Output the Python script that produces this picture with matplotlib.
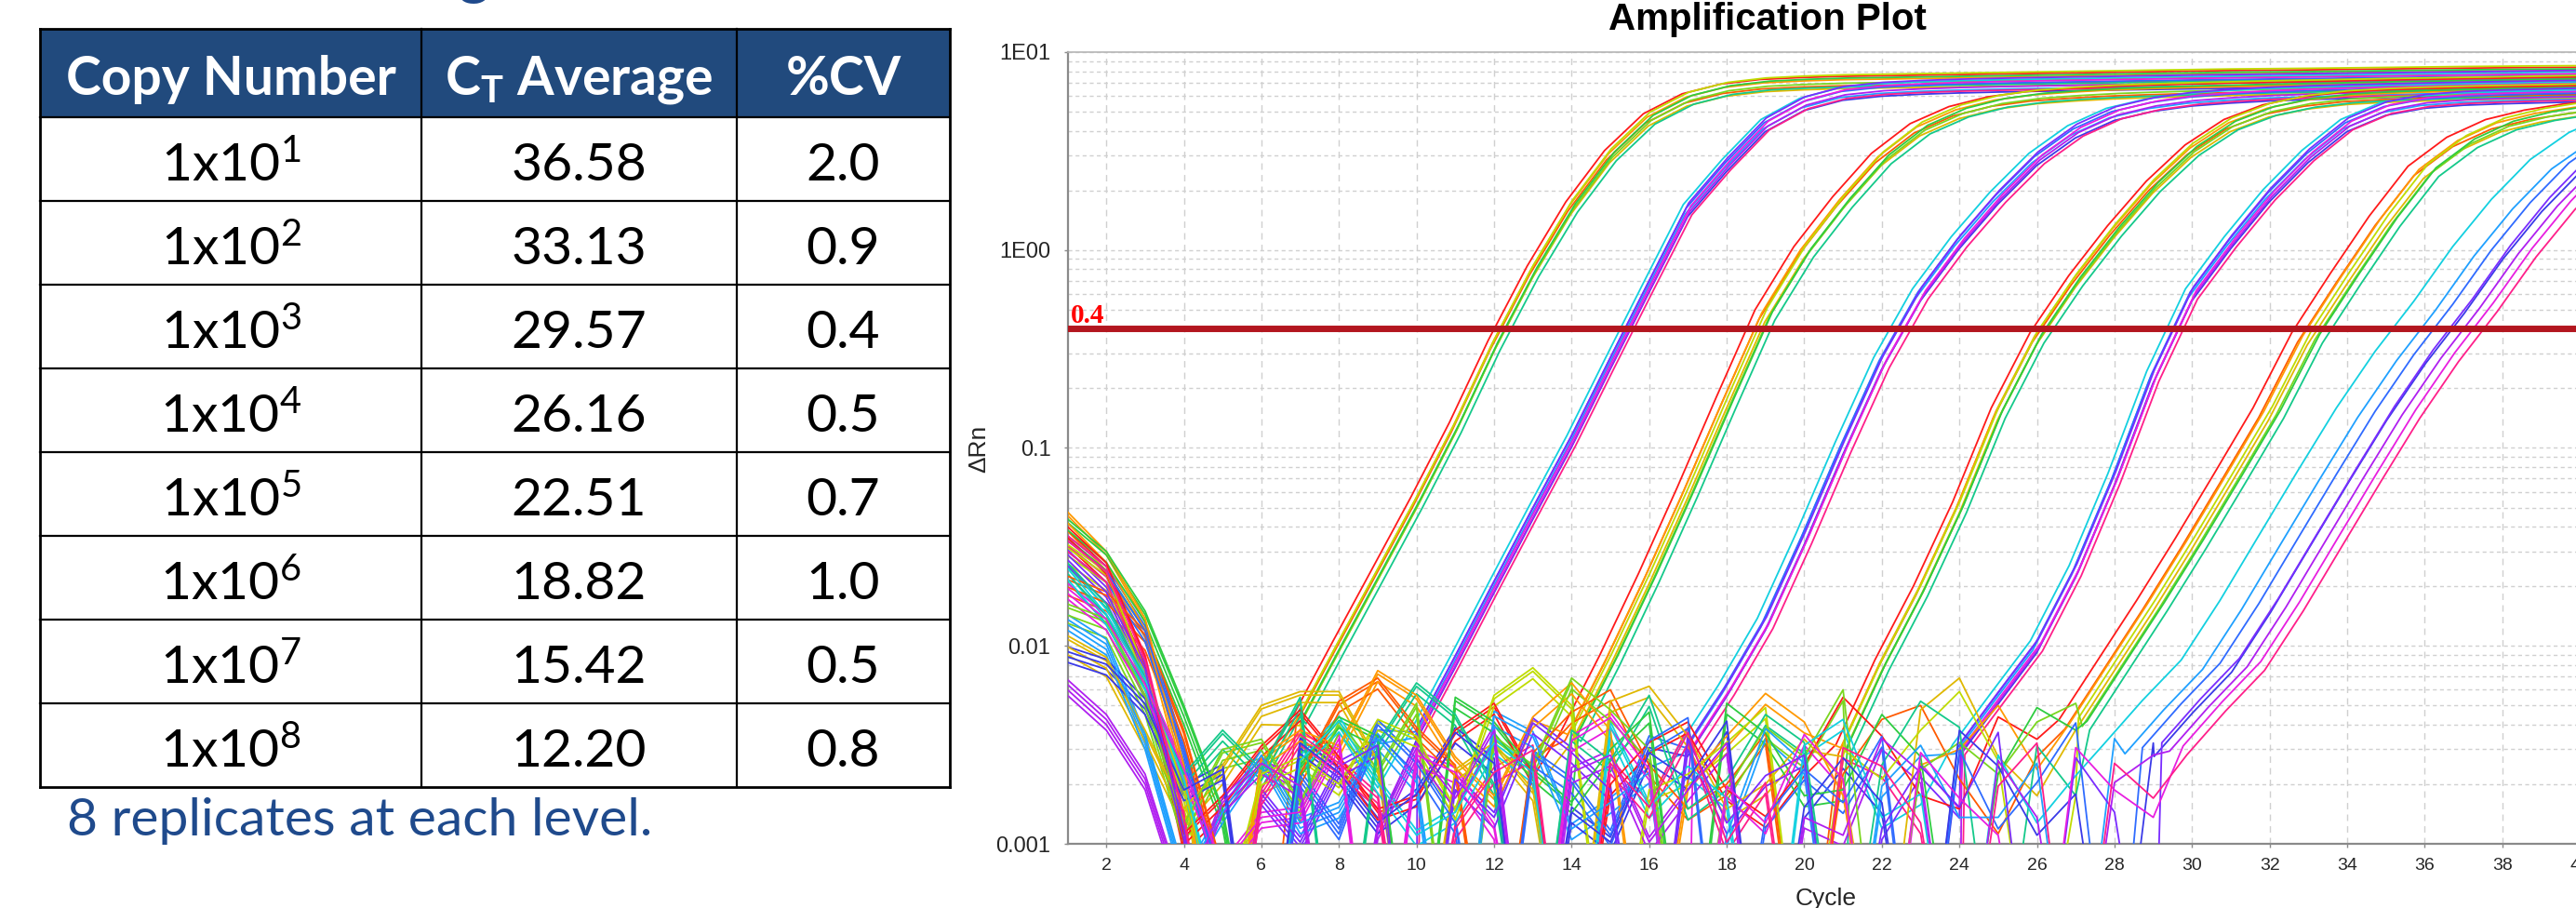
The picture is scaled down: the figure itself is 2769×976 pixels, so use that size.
import matplotlib
matplotlib.use('Agg')
import matplotlib.pyplot as plt
import matplotlib.ticker as ticker
from matplotlib.patches import Rectangle
import numpy as np

plt.rcParams['font.family'] = ['Liberation Sans', 'DejaVu Sans']
plt.rcParams['mathtext.fontset'] = 'custom'
plt.rcParams['mathtext.rm'] = 'Lato'
plt.rcParams['mathtext.it'] = 'Lato:italic'
plt.rcParams['mathtext.bf'] = 'Lato:bold'

# ---------------- table values ----------------
header = ['Copy Number', r'C$_{\mathbf{T}}$ Average', '%CV']
copy_exponents = [1, 2, 3, 4, 5, 6, 7, 8]
ct_average = [36.58, 33.13, 29.57, 26.16, 22.51, 18.82, 15.42, 12.20]
cv_percent = [2.0, 0.9, 0.4, 0.5, 0.7, 1.0, 0.5, 0.8]
note = '8 replicates at each level.'

# ---------------- amplification plot values ----------------
threshold = 0.4
y_ticks = [0.001, 0.01, 0.1, 1, 10]
y_tick_labels = ['0.001', '0.01', '0.1', '1E00', '1E01']
x_ticks = list(range(2, 41, 2))

# CT of every replicate (read at the 0.4 threshold), 1x10^8 first
ct_rep_1e8 = [12.05, 12.10, 12.15, 12.18, 12.22, 12.25, 12.30, 12.35]
ct_rep_1e7 = [15.30, 15.35, 15.38, 15.41, 15.44, 15.47, 15.49, 15.52]
ct_rep_1e6 = [18.55, 18.65, 18.72, 18.80, 18.86, 18.92, 19.00, 19.06]
ct_rep_1e5 = [22.30, 22.38, 22.44, 22.50, 22.54, 22.58, 22.64, 22.70]
ct_rep_1e4 = [25.98, 26.04, 26.10, 26.14, 26.18, 26.22, 26.28, 26.34]
ct_rep_1e3 = [29.40, 29.46, 29.52, 29.56, 29.60, 29.63, 29.68, 29.71]
ct_rep_1e2 = [32.70, 32.85, 32.98, 33.10, 33.20, 33.30, 33.42, 33.49]
ct_rep_1e1 = [35.30, 35.85, 36.30, 36.60, 36.80, 37.00, 37.35, 37.45]

# typical delta Rn of each level at whole cycles, starting at curve_start
curve_start = [7, 10, 14, 17, 21, 24, 27, 29]
curve_1e8 = [0.0043, 0.010, 0.023, 0.053, 0.127, 0.33, 0.78, 1.65, 3.0, 4.6,
             5.8, 6.5, 6.85, 7.0, 7.1, 7.15, 7.2, 7.25, 7.3, 7.35, 7.4, 7.45,
             7.5, 7.55, 7.6, 7.63, 7.66, 7.7, 7.74, 7.78, 7.82, 7.85, 7.88,
             7.9, 7.92, 7.94]
curve_1e7 = [0.0036, 0.0084, 0.020, 0.047, 0.109, 0.27, 0.66, 1.6, 2.7, 4.3,
             5.5, 6.2, 6.5, 6.65, 6.75, 6.82, 6.88, 6.93, 6.98, 7.03, 7.08,
             7.12, 7.16, 7.2, 7.24, 7.28, 7.32, 7.36, 7.4, 7.44, 7.48, 7.5, 7.52]
curve_1e6 = [0.0035, 0.0085, 0.022, 0.06, 0.17, 0.47, 0.98, 1.75, 2.9, 4.1,
             5.0, 5.6, 5.95, 6.15, 6.3, 6.4, 6.48, 6.55, 6.62, 6.68, 6.74, 6.8,
             6.85, 6.9, 6.95, 7.0, 7.05, 7.08, 7.1]
curve_1e5 = [0.003, 0.006, 0.013, 0.035, 0.1, 0.27, 0.6, 1.1, 1.85, 2.9, 4.0,
             4.9, 5.45, 5.8, 6.0, 6.15, 6.25, 6.33, 6.4, 6.46, 6.52, 6.57,
             6.62, 6.66, 6.7, 6.73]
curve_1e4 = [0.003, 0.008, 0.019, 0.05, 0.15, 0.36, 0.7, 1.25, 2.1, 3.2, 4.3,
             5.1, 5.6, 5.9, 6.05, 6.15, 6.22, 6.28, 6.33, 6.38, 6.42, 6.45]
curve_1e3 = [0.003, 0.0055, 0.01, 0.024, 0.07, 0.23, 0.6, 1.1, 1.9, 3.0, 4.3,
             5.2, 5.65, 5.85, 5.95, 6.02, 6.08, 6.12, 6.15]
curve_1e2 = [0.004, 0.008, 0.016, 0.033, 0.07, 0.15, 0.36, 0.72, 1.4, 2.5, 3.5,
             4.3, 4.8, 5.15, 5.4, 5.6]
curve_1e1 = [0.003, 0.005, 0.008, 0.016, 0.034, 0.072, 0.15, 0.29, 0.52, 0.98,
             1.7, 2.7, 3.7, 4.5]

# plateau spread of the replicate wells
plateau_factor = [1.06, 0.95, 1.02, 0.92, 1.08, 0.98, 1.04, 0.94]
noise_scale = [1.0, 0.8, 1.2, 0.9, 1.1, 0.75, 1.25, 0.85]

# baseline wiggle before take-off, cycles 1..40, in units of 1e-4
baseline_1e4 = [
    [320, 210, 70, 9, 14, 25, 38, 22, 12, 14, 30, 41, 18, 1, 16, 26, 33, 15, 11, 20,
     44, 28, 14, 12, 35, 27, 1, 19, 18, 31, 22, 13, 15, 28, 1, 19, 33, 17, 21, 30],
    [180, 150, 95, 30, 6, 1, 18, 42, 55, 31, 20, 1, 23, 37, 48, 20, 12, 16, 29, 1,
     18, 34, 40, 17, 9, 22, 38, 25, 1, 14, 20, 27, 36, 15, 18, 25, 1, 30, 12, 16],
    [380, 240, 110, 20, 1, 22, 30, 25, 60, 45, 22, 14, 35, 52, 30, 1, 17, 28, 46, 33,
     14, 1, 20, 24, 40, 19, 12, 31, 17, 1, 26, 43, 21, 16, 1, 29, 37, 18, 13, 24],
    [90, 70, 30, 12, 20, 40, 47, 47, 21, 1, 19, 26, 15, 1, 42, 50, 28, 12, 16, 27,
     17, 1, 38, 55, 22, 14, 13, 30, 36, 1, 18, 21, 34, 25, 1, 17, 23, 33, 27, 1],
    [260, 190, 60, 15, 3, 18, 22, 16, 34, 28, 12, 45, 62, 40, 1, 15, 18, 26, 39, 1,
     24, 17, 30, 47, 21, 1, 14, 19, 40, 28, 1, 23, 16, 36, 18, 1, 27, 12, 20, 35],
    [130, 110, 45, 10, 24, 27, 13, 33, 19, 41, 1, 28, 20, 55, 38, 24, 1, 15, 31, 22,
     48, 1, 19, 26, 18, 33, 41, 1, 24, 15, 19, 37, 1, 28, 22, 14, 16, 31, 1, 26],
    [350, 240, 120, 40, 12, 1, 20, 35, 28, 1, 44, 33, 19, 13, 24, 37, 1, 41, 29, 14,
     15, 36, 22, 1, 18, 39, 30, 16, 1, 33, 25, 12, 1, 21, 40, 17, 14, 28, 1, 22],
    [210, 130, 55, 18, 30, 19, 44, 1, 26, 52, 36, 16, 1, 30, 21, 45, 12, 17, 36, 26,
     1, 20, 42, 31, 1, 25, 14, 20, 47, 1, 35, 18, 13, 26, 1, 30, 42, 15, 17, 1],
    [290, 170, 80, 25, 4, 1, 31, 49, 24, 13, 17, 38, 27, 1, 46, 18, 29, 20, 1, 37,
     50, 16, 21, 1, 33, 15, 26, 43, 1, 18, 39, 14, 24, 1, 31, 20, 12, 36, 1, 25],
    [160, 120, 40, 8, 17, 33, 15, 18, 40, 24, 1, 52, 41, 14, 19, 27, 1, 13, 45, 30,
     1, 23, 37, 16, 16, 30, 1, 40, 22, 12, 1, 34, 27, 15, 22, 1, 39, 18, 30, 19],
    [400, 280, 140, 35, 7, 1, 26, 14, 47, 30, 15, 1, 33, 24, 13, 39, 51, 1, 16, 28,
     19, 41, 1, 35, 14, 24, 48, 1, 17, 29, 12, 1, 32, 21, 1, 41, 17, 23, 33, 1],
    [110, 95, 60, 22, 28, 1, 38, 27, 15, 21, 43, 30, 1, 17, 12, 34, 25, 49, 1, 18,
     32, 19, 1, 44, 29, 13, 21, 1, 38, 26, 16, 30, 1, 19, 35, 14, 26, 1, 41, 18],
    [340, 220, 90, 14, 1, 21, 12, 29, 37, 1, 25, 16, 48, 34, 22, 1, 40, 15, 26, 33,
     1, 14, 29, 18, 43, 1, 32, 17, 1, 24, 37, 13, 20, 33, 1, 26, 15, 18, 1, 36],
    [75, 50, 25, 6, 19, 30, 23, 1, 14, 36, 20, 44, 1, 27, 33, 12, 22, 38, 1, 16,
     13, 40, 27, 1, 31, 16, 1, 24, 33, 17, 1, 42, 18, 1, 27, 33, 13, 22, 28, 1],
    [230, 160, 75, 28, 9, 16, 17, 40, 1, 33, 27, 14, 1, 39, 51, 28, 1, 23, 15, 42,
     25, 1, 34, 20, 13, 1, 36, 22, 16, 28, 42, 1, 14, 30, 17, 1, 25, 38, 12, 27],
    [400, 280, 100, 16, 1, 21, 42, 30, 20, 1, 14, 27, 35, 1, 30, 18, 43, 12, 24, 1,
     36, 29, 15, 1, 23, 38, 1, 30, 20, 14, 1, 25, 41, 17, 19, 28, 1, 34, 13, 23],
]

warm = ['#ff1a1a', '#ff5a00', '#ff9900', '#e0b800', '#bfdc00', '#7ad61f',
        '#2ecc40', '#14c98a']
cool = ['#13d0e0', '#1fa0ff', '#2f6bff', '#3a3ae8', '#7a2cff', '#b01ff0',
        '#e81ee0', '#ff1f8a']

W, H = 2769, 976
fig = plt.figure(figsize=(W / 100, H / 100), dpi=100)

# ---------------- table (drawn in pixel coordinates) ----------------
tab = fig.add_axes([0, 0, 1, 1])
tab.set_xlim(0, W)
tab.set_ylim(H, 0)
tab.axis('off')

lato = ['Lato', 'DejaVu Sans']
col_x = [43, 453, 792, 1021]
row_y = [31, 126] + [126 + 90 * (i + 1) for i in range(8)]
col_c = [(col_x[i] + col_x[i + 1]) / 2 for i in range(3)]

tab.add_patch(Rectangle((col_x[0], row_y[0]), col_x[-1] - col_x[0],
                        row_y[1] - row_y[0], facecolor='#214A7D',
                        edgecolor='none'))
for y in row_y:
    lw = 2.0 if y in (row_y[0], row_y[-1]) else 1.6
    tab.plot([col_x[0], col_x[-1]], [y, y], color='black', lw=lw,
             solid_capstyle='projecting')
for x in col_x:
    lw = 2.0 if x in (col_x[0], col_x[-1]) else 1.6
    tab.plot([x, x], [row_y[0], row_y[-1]], color='black', lw=lw,
             solid_capstyle='projecting')

for c, h in zip(col_c, header):
    tab.text(c, 101.5, h, ha='center', va='baseline', color='white',
             fontsize=41, fontweight='bold', family=lato)

for i in range(len(copy_exponents)):
    yb = row_y[i + 1] + 68.5
    tab.text(col_c[0], yb, '1x10$^{%d}$' % copy_exponents[i], ha='center',
             va='baseline', fontsize=41, family=lato)
    tab.text(col_c[1], yb, '%.2f' % ct_average[i], ha='center',
             va='baseline', fontsize=41, family=lato)
    tab.text(col_c[2], yb, '%.1f' % cv_percent[i], ha='center',
             va='baseline', fontsize=41, family=lato)

tab.text(72, 898, note, color='#1F4A8C', fontsize=41, family=lato,
         ha='left', va='baseline')

# cut-off slide heading above the picture
tab.text(492, -8, 'g', color='#1F4A8C', fontsize=46, fontweight='bold',
         family=lato, ha='left', va='baseline')
tab.text(1886, -10, 'y', color='#1F4A8C', fontsize=46, fontweight='bold',
         family=lato, ha='left', va='baseline')

# ---------------- amplification plot ----------------
ax = fig.add_axes([1147.5 / W, (H - 907) / H, (2814.8 - 1147.5) / W,
                   (907 - 55.9) / H])
ax.set_yscale('log')
ax.set_xlim(1, 41)
ax.set_ylim(0.001, 10)

levels = [(ct_rep_1e8, curve_1e8), (ct_rep_1e7, curve_1e7),
          (ct_rep_1e6, curve_1e6), (ct_rep_1e5, curve_1e5),
          (ct_rep_1e4, curve_1e4), (ct_rep_1e3, curve_1e3),
          (ct_rep_1e2, curve_1e2), (ct_rep_1e1, curve_1e1)]
ct_by_level = ct_average[::-1]
base_cycles = np.arange(1, 41)

for g, (cts, curve) in enumerate(levels):
    palette = warm if g % 2 == 0 else cool
    curve_x = np.arange(curve_start[g], curve_start[g] + len(curve))
    for r, ct in enumerate(cts):
        shift = ct - ct_by_level[g]
        base = np.array(baseline_1e4[(g * 8 + r) % 16]) * 1e-4 * noise_scale[g]
        keep = base_cycles < curve_start[g] + shift
        xs = np.concatenate([base_cycles[keep], curve_x + shift])
        ys = np.concatenate([base[keep], np.array(curve) * plateau_factor[r]])
        ax.plot(xs, ys, color=palette[r], lw=1.3, zorder=3)

ax.axhline(threshold, color='#B3161F', lw=5, zorder=6)
ax.annotate('0.4', xy=(1, threshold), xytext=(3, 6),
            textcoords='offset pixels', color='#ff0000', fontsize=21,
            fontweight='bold', family='Liberation Serif', va='baseline',
            zorder=7)

ax.set_yticks(y_ticks)
ax.set_yticklabels(y_tick_labels)
ax.yaxis.set_minor_locator(ticker.LogLocator(base=10, subs=np.arange(2, 10)))
ax.yaxis.set_minor_formatter(ticker.NullFormatter())
ax.set_xticks(x_ticks)

ax.grid(True, which='major', axis='x', color='#d0d0d0', lw=1,
        ls=(0, (5, 4)))
ax.grid(True, which='both', axis='y', color='#d0d0d0', lw=1,
        ls=(0, (3, 2.5)))
ax.set_axisbelow(True)

for side in ('left', 'bottom'):
    ax.spines[side].set_color('#8a8a8a')
    ax.spines[side].set_linewidth(1.6)
ax.spines['top'].set_color('#b5b5b5')
ax.spines['top'].set_linewidth(1.2)

ax.tick_params(axis='y', which='major', length=3, width=1, color='#8a8a8a',
               pad=10, labelsize=17, labelcolor='#262626')
ax.tick_params(axis='y', which='minor', length=0)
ax.tick_params(axis='x', which='major', length=3, width=1, color='#8a8a8a',
               pad=8, labelsize=14, labelcolor='#262626')

fig.text(1900 / W, 1 - 21 / H, 'Amplification Plot', ha='center',
         va='center', fontsize=29, fontweight='bold')
fig.text(1052 / W, 1 - 482 / H, '\u0394Rn', rotation=90, ha='center',
         va='center', fontsize=19, color='#262626')
fig.text(1963 / W, 1 - 966 / H, 'Cycle', ha='center', va='center',
         fontsize=19, color='#262626')

fig.savefig('out.png', dpi=100)
